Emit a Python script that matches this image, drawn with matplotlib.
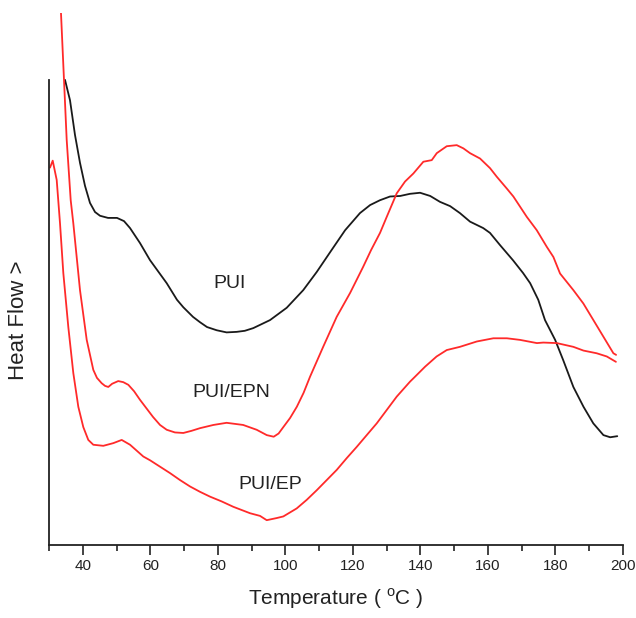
import matplotlib
matplotlib.use("Agg")
import matplotlib.pyplot as plt
from matplotlib.ticker import MultipleLocator

plt.rcParams['font.family'] = ['Liberation Sans', 'DejaVu Sans']

# PUI (black)
pui_t = [34.74, 36.22, 37.70, 39.18, 40.66, 42.14, 43.63, 45.11, 47.48, 50.14, 52.22, 54.0,
         56.95, 59.92, 64.86, 67.9, 69.78, 72.65, 74.73, 76.8, 79.67, 82.6, 85.6, 88.0,
         90.5, 95.46, 100.4, 105.3, 109.3, 113.7, 117.7, 122.1, 125.1, 128.0, 131.0,
         134.0, 136.9, 139.9, 142.9, 145.8, 148.8, 151.7, 154.7, 158.6, 160.6, 163.6,
         167.4, 170.4, 172.5, 174.9, 176.9, 179.9, 182.3, 185.3, 188.3, 191.2, 194.2,
         196.2, 198.3]
pui_v = [8.75, 8.37, 7.72, 7.20, 6.77, 6.45, 6.28, 6.21, 6.17, 6.17, 6.11, 5.98,
         5.70, 5.38, 4.95, 4.64, 4.50, 4.32, 4.22, 4.13, 4.07, 4.03, 4.04, 4.06,
         4.11, 4.26, 4.49, 4.82, 5.16, 5.57, 5.94, 6.26, 6.41, 6.50, 6.57,
         6.58, 6.62, 6.64, 6.58, 6.47, 6.39, 6.26, 6.10, 5.98, 5.89, 5.66,
         5.38, 5.14, 4.95, 4.64, 4.26, 3.89, 3.51, 3.01, 2.64, 2.33, 2.11,
         2.07, 2.09]

# PUI/EPN (red, upper)
epn_t = [33.0, 33.55, 35.24, 36.43, 37.2, 39.18, 41.17, 43.12, 44.2, 45.6, 46.6, 47.56,
         48.7, 50.5, 52.0, 53.5, 55.2, 56.95, 60.8, 62.88, 64.86, 67.3, 69.78, 72.2,
         74.73, 78.7, 82.6, 87.5, 91.5, 94.5, 96.55, 98.0, 99.4, 101.4, 103.4, 105.4,
         107.3, 111.2, 115.2, 119.2, 123.0, 125.4, 128.04, 130.03, 132.99, 135.45,
         137.91, 140.87, 143.36, 144.84, 147.8, 150.76, 152.72, 154.7, 157.66, 160.62,
         162.61, 165.57, 167.53, 171.5, 174.46, 177.42, 179.38, 181.36, 185.3, 188.26,
         191.23, 194.19, 197.15, 197.95]
epn_v = [11.0, 10.0, 7.63, 6.50, 6.07, 4.82, 3.89, 3.33, 3.18, 3.08, 3.03, 3.01,
         3.07, 3.12, 3.10, 3.05, 2.93, 2.77, 2.45, 2.30, 2.21, 2.16, 2.15, 2.19,
         2.24, 2.30, 2.34, 2.30, 2.21, 2.11, 2.08, 2.14, 2.26, 2.43, 2.64, 2.90,
         3.20, 3.76, 4.32, 4.77, 5.25, 5.57, 5.89, 6.19, 6.63, 6.85,
         7.00, 7.22, 7.25, 7.38, 7.51, 7.53, 7.47, 7.38, 7.28, 7.10,
         6.94, 6.72, 6.57, 6.19, 5.94, 5.63, 5.44, 5.13, 4.82, 4.57,
         4.26, 3.95, 3.64, 3.61]

# PUI/EP (red, lower)
ep_t = [30.3, 31.10, 32.28, 33.26, 34.24, 35.72, 37.2, 38.68, 40.16, 41.64, 43.12, 46.08,
        49.05, 51.53, 54.0, 57.93, 59.92, 62.88, 65.84, 68.8, 71.77, 74.73, 77.69, 81.16,
        84.59, 89.54, 92.5, 94.48, 97.45, 99.4, 103.37, 106.33, 109.3, 112.26, 115.22,
        118.18, 121.14, 124.1, 127.07, 130.03, 132.99, 136.93, 137.9, 141.4, 144.8,
        147.8, 151.7, 156.7, 161.6, 165.6, 169.5, 174.5, 176.4, 180.4, 185.3, 188.3,
        192.2, 195.2, 197.9]
ep_v = [7.11, 7.24, 6.88, 6.07, 5.14, 4.13, 3.27, 2.64, 2.26, 2.02, 1.93, 1.91,
        1.96, 2.02, 1.93, 1.71, 1.64, 1.52, 1.40, 1.27, 1.15, 1.05, 0.96, 0.87,
        0.77, 0.65, 0.60, 0.52, 0.56, 0.59, 0.74, 0.90, 1.08, 1.27, 1.46,
        1.68, 1.89, 2.11, 2.33, 2.58, 2.83, 3.11, 3.17, 3.39, 3.58,
        3.70, 3.76, 3.86, 3.92, 3.92, 3.89, 3.83, 3.84, 3.83, 3.76, 3.69,
        3.64, 3.58, 3.48]

labels = ["PUI", "PUI/EPN", "PUI/EP"]
label_pos = [(83.6, 4.95), (84.1, 2.90), (95.5, 1.18)]

fig = plt.figure(figsize=(6.36, 6.18), dpi=100)
ax = fig.add_axes([0.07704, 0.11812, 0.90252, 0.86084])

black = '#1a1a1a'
red = '#ff2a2a'
kw = dict(lw=1.3, solid_joinstyle='round', solid_capstyle='round')
ax.plot(pui_t, pui_v, color=black, **kw)
ax.plot(epn_t, epn_v, color=red, **kw)
ax.plot(ep_t, ep_v, color=red, **kw)

for txt, (x, y) in zip(labels, label_pos):
    ax.text(x, y, txt, ha='center', va='center', fontsize=14, color='#222222')

ax.set_xlim(30, 200)
ax.set_ylim(0.056, 10.0)
ax.spines['top'].set_visible(False)
ax.spines['right'].set_visible(False)
ax.spines['left'].set_bounds(0.056, 8.75)
for s in ('left', 'bottom'):
    ax.spines[s].set_linewidth(1.3)
    ax.spines[s].set_color('#222222')
ax.set_yticks([])
ax.xaxis.set_minor_locator(MultipleLocator(10))
ax.set_xticks([40, 60, 80, 100, 120, 140, 160, 180, 200])
ax.tick_params(axis='x', which='major', length=7, width=1.2, pad=3,
               labelsize=11, colors='#222222')
ax.tick_params(axis='x', which='minor', length=4, width=1.2, colors='#222222')
ax.set_xlabel('Temperature ( $^{\\mathregular{o}}$C )', fontsize=15, labelpad=10, color='#222222')
ax.set_ylabel('Heat Flow >', fontsize=16, color='#222222', va='center')
ax.yaxis.set_label_coords(-0.054, 0.423)

fig.savefig('out.png', dpi=100, facecolor='white')
